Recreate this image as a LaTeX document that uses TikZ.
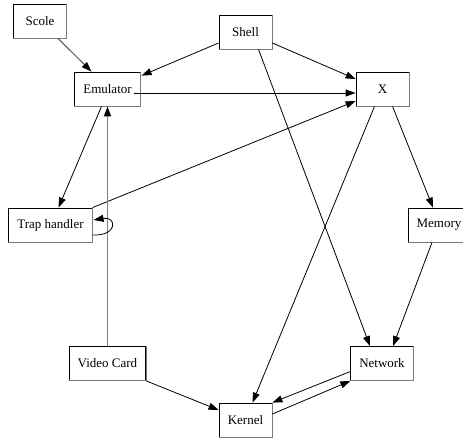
\documentclass[tikz,border=0pt]{standalone}
\usepackage{fontspec}
\setmainfont{Liberation Serif}
\usetikzlibrary{arrows.meta}
\definecolor{ink}{HTML}{000000}
\definecolor{rim}{HTML}{7A7A7A}
\definecolor{faint}{HTML}{808080}
\definecolor{dim}{HTML}{555555}
\tikzset{
  box/.style={draw=ink, line width=0.8pt, rectangle, minimum width=53pt, minimum height=34pt,
    inner xsep=8.5pt, font=\fontsize{13}{15}\selectfont},
  edge/.style={draw=ink, line width=0.8pt, -{Triangle[length=10pt,width=7pt,color=ink]}},
  grayedge/.style={edge, draw=faint, line width=1.3pt},
  dimedge/.style={edge, draw=dim, line width=1pt},
  rimline/.style={draw=rim, line width=1.1pt},
}

\begin{document}
\begin{tikzpicture}[x=1pt,y=-1pt]
  \useasboundingbox (0,0) rectangle (463,439);

  \node[box] (scole)  at (40,21)   {Scole};
  \node[box] (shell)  at (245.5,32) {Shell};
  \node[box] (emu)    at (107.5,89) {Emulator};
  \node[box] (xsrv)   at (382.5,89) {X};
  \node[box] (trap)   at (50.5,225) {Trap handler};
  \node[box] (mem)    at (439,225)  {Memory};
  \node[box] (video)  at (107.5,363.5) {Video Card};
  \node[box] (net)    at (382,363.5) {Network};
  \node[box] (kernel) at (245.5,420) {Kernel};

  % darker right and bottom sides
  \foreach \n in {scole,shell,emu,xsrv,trap,mem,video,net,kernel}
    \draw[rimline] (\n.north east) -- (\n.south east) -- (\n.south west);

  \draw[dimedge] ([xshift=18pt]scole.south) -- ([xshift=-16pt]emu.north);
  \draw[edge] ([yshift=-11pt]shell.west) -- ([yshift=-4pt,xshift=1pt]emu.north east);
  \draw[edge] ([yshift=-11pt]shell.east) -- ([yshift=10pt]xsrv.west);
  \draw[edge] ([xshift=26pt,yshift=-4pt]emu.center) -- ([yshift=-4pt]xsrv.west);
  \draw[edge] (trap.north east) -- ([yshift=-12pt]xsrv.west);
  \draw[edge] ([xshift=13pt]shell.south) -- ([xshift=-12pt]net.north);
  \draw[edge] ([xshift=-6pt]emu.south) -- ([xshift=8pt]trap.north);
  \draw[grayedge] (video.north) -- (emu.south);
  \draw[edge] ([yshift=-10pt]trap.east) .. controls +(26,1) and +(23,-4) .. ([yshift=5pt,xshift=1pt]trap.east);
  \draw[edge] ([xshift=10pt]xsrv.south) -- ([xshift=-6pt]mem.north);
  \draw[edge] ([xshift=-8pt]xsrv.south) -- ([xshift=7pt]kernel.north);
  \draw[edge] ([xshift=-7pt]mem.south) -- ([xshift=11pt]net.north);
  \draw[edge] (video.south east) -- ([yshift=10pt]kernel.west);
  \draw[edge] ([yshift=-8pt]net.west) -- (kernel.north east);
  \draw[edge] ([yshift=6pt]kernel.east) -- (net.south west);
\end{tikzpicture}
\end{document}
